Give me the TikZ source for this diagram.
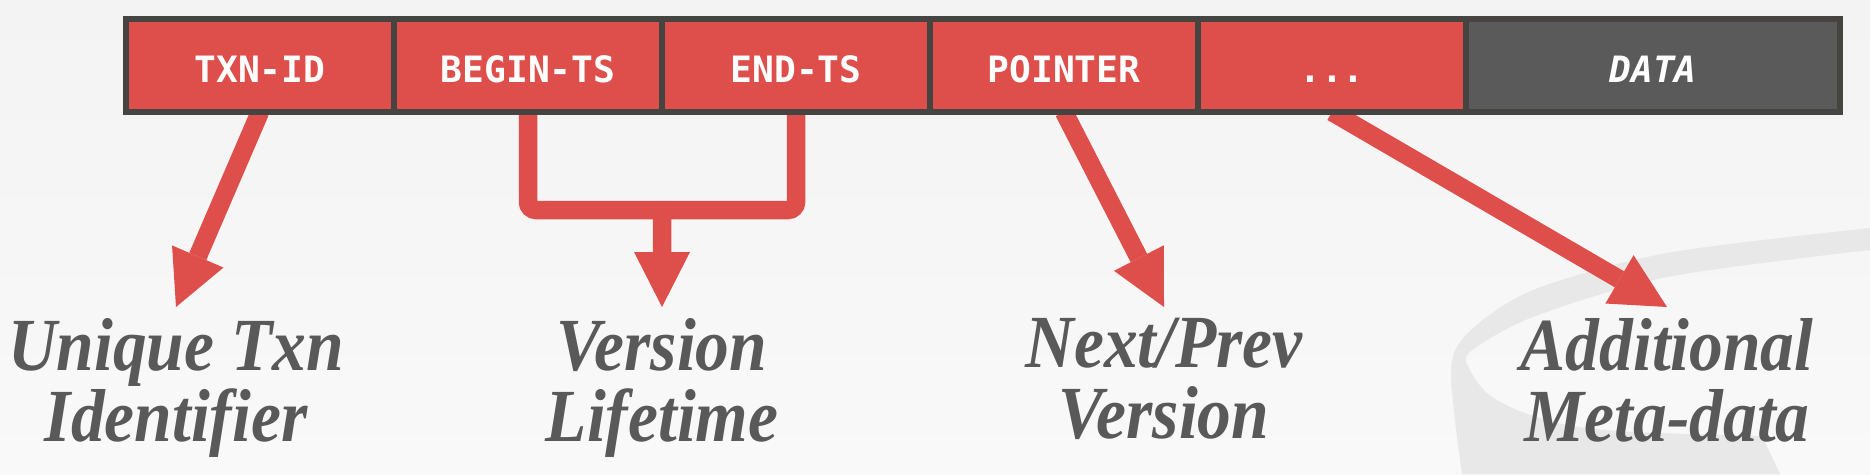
\documentclass[tikz,border=0pt]{standalone}
\usepackage{fontspec}
\usepackage{tikz}
\usetikzlibrary{positioning, calc, arrows.meta, backgrounds}

\newfontfamily\cellfont{DejaVu Sans Mono}
\newfontfamily\labelfont{Liberation Serif}[FakeStretch=0.9]

\definecolor{cellred}{HTML}{DE4F4B}
\definecolor{celldark}{HTML}{5A5A5A}
\definecolor{rim}{HTML}{464441}
\definecolor{labelgray}{HTML}{595959}
\definecolor{bgtop}{HTML}{F3F3F3}
\definecolor{bgbottom}{HTML}{F9F9F9}
\definecolor{logo}{HTML}{E8E8E8}

\begin{document}
\begin{tikzpicture}[x = 0.4pt, y = -0.4pt,
	cell/.style = {draw = rim, line width = 2.4pt, fill = cellred, outer sep = 0pt, inner sep = 0pt,
		minimum width = 107.2pt, minimum height = 37.2pt, text height = 13.3pt, text depth = 0pt,
		text = white, font = \cellfont\bfseries\fontsize{14.5}{16}\selectfont},
	lbl/.style = {anchor = north, align = center, inner sep = 0pt, outer sep = 4.4pt, text = labelgray,
		font = \labelfont\bfseries\itshape\fontsize{30}{28.4}\selectfont},
	shaft/.style = {draw = cellred, line width = 7.4pt},
	arr/.style = {shaft, -{Triangle[width = 22.4pt, length = 22pt, line width = 0pt]}}]

			\useasboundingbox (0,0) rectangle (1870,474);

			\begin{scope}
				\node [cell] (txn) at (260,65.5) {TXN-ID};
				\node [cell, right = 0pt of txn] (begin) {BEGIN-TS};
				\node [cell, right = 0pt of begin] (endts) {END-TS};
				\node [cell, right = 0pt of endts] (ptr) {POINTER};
				\node [cell, right = 0pt of ptr] (dots) {...};
				\node [cell, right = 0pt of dots, fill = celldark, minimum width = 149.6pt,
					font = \cellfont\bfseries\itshape\fontsize{14.5}{16}\selectfont] (data) {DATA};
			\end{scope}

			\begin{scope}
				\node [lbl] (uniq) at (176,307) {Unique Txn\\Identifier};
				\node [lbl] (life) at (662,307) {Version\\Lifetime};
				\node [lbl] (next) at (1164,307) {Next/Prev\\Version};
				\node [lbl] (meta) at (1667,307) {Additional\\Meta-data};
			\end{scope}

			\coordinate (merge) at ($(begin.south east) + (0,98)$);

			\begin{scope}[on background layer]
				\shade [top color = bgtop, bottom color = bgbottom] (0,0) rectangle (1870,474);
				\fill [logo] plot [smooth] coordinates {(1870,228) (1667,253) (1533,290) (1468,333) (1451,372) (1462,474)}
					-- (1780,474) -- (1762,436)
					-- plot [smooth] coordinates {(1762,436) (1633,432) (1567,425) (1517,410) (1487,393) (1470,370) (1470,352) (1533,317) (1667,277) (1870,250)}
					-- cycle;

				\draw [shaft, rounded corners = 3.2pt] (begin.south) -- (begin.south |- merge) -- (endts.south |- merge) -- (endts.south);
				\draw [arr] (merge) -- (life.north);
				\draw [arr] (txn.south) -- (uniq.north);
				\draw [arr] (ptr.south) -- (next.north);
				\draw [arr] (dots.south) -- (meta.north);
			\end{scope}
		\end{tikzpicture}
\end{document}
